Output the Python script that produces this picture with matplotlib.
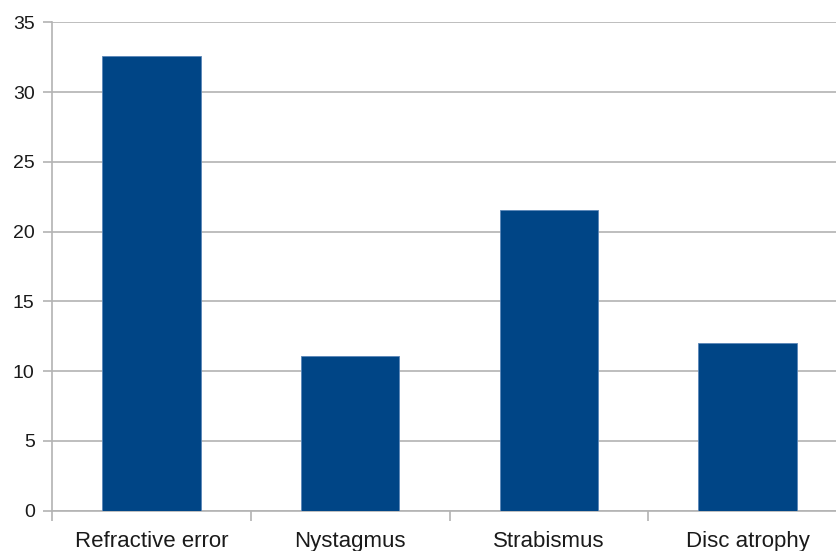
#!/usr/bin/env python
# -*- coding: utf-8 -*-

import numpy as np
import matplotlib
matplotlib.use('Agg')
import matplotlib.pyplot as plt

categories = ['Refractive error', 'Nystagmus', 'Strabismus', 'Disc atrophy']
values = [32.6, 11.1, 21.55, 12.0]
yticks = [0, 5, 10, 15, 20, 25, 30, 35]

plt.rcParams['font.family'] = ['Liberation Sans', 'DejaVu Sans']

W, H = 836, 551
fig = plt.figure(figsize=(W / 100, H / 100), dpi=100)
left, right = 52, 847
bottom, top = 510.5, 22.3
ax = fig.add_axes([left / W, (H - bottom) / H, (right - left) / W, (bottom - top) / H])

x = np.arange(len(categories))
ax.bar(x, values, width=0.495, color='#004586', edgecolor='#5a86b8', linewidth=0.6, zorder=3)

ax.set_xlim(-0.5, len(categories) - 0.5)
ax.set_ylim(0, 35)
ax.set_yticks(yticks)
ax.set_yticklabels([str(v) for v in yticks])
ax.yaxis.grid(True, color='#b3b3b3', linewidth=1.2, zorder=0)

ax.set_xticks(x)
ax.set_xticklabels(categories)
ax.set_xticks(np.arange(len(categories) + 1) - 0.5, minor=True)
ax.tick_params(axis='x', which='major', length=0, pad=14.5, labelsize=16, labelcolor='#1a1a1a')
ax.tick_params(axis='x', which='minor', length=7.5, width=1.2, color='#b3b3b3', direction='out')
ax.tick_params(axis='y', length=6.5, width=1.2, color='#b3b3b3', pad=6, labelsize=14, labelcolor='#1a1a1a')

for s in ['top', 'right']:
    ax.spines[s].set_visible(False)
for s in ['left', 'bottom']:
    ax.spines[s].set_color('#b3b3b3')
    ax.spines[s].set_linewidth(1.2)

fig.savefig('out.png', dpi=100)
